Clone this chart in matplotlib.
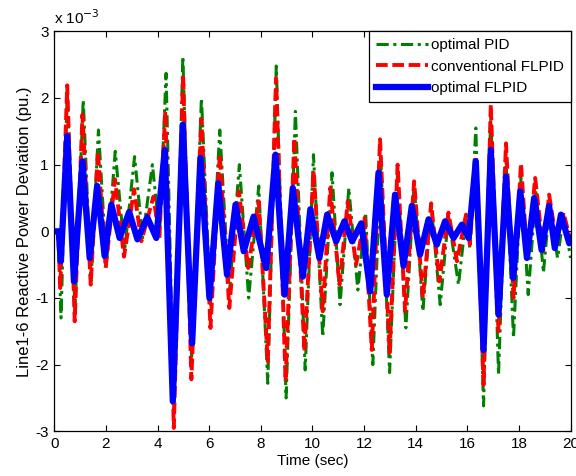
import matplotlib
matplotlib.use("Agg")
import matplotlib.pyplot as plt

plt.rcParams['font.family'] = ['Liberation Sans', 'DejaVu Sans']
plt.rcParams['axes.unicode_minus'] = False

# Values in units of 1e-3, time in seconds
t_pid = [0, 0.15, 0.26, 0.5, 0.8, 1.12, 1.42, 1.71, 2.02, 2.36, 2.72, 3.11, 3.42, 3.8, 4.08,
         4.33, 4.63, 4.98, 5.32, 5.7, 6.05, 6.41, 6.78, 7.17, 7.53, 7.92, 8.27, 8.6, 8.98,
         9.34, 9.72, 10.04, 10.4, 10.76, 11.07, 11.41, 11.76, 12.06, 12.34, 12.65, 12.99,
         13.3, 13.62, 13.94, 14.28, 14.6, 14.95, 15.27, 15.66, 15.95, 16.1, 16.33, 16.63,
         16.91, 17.21, 17.5, 17.79, 18.08, 18.36, 18.66, 18.95, 19.17, 19.5, 19.73, 20.0]
v_pid = [0, 0, -1.3, 2.1, -1.2, 1.97, -0.75, 1.52, -0.5, 1.2, -0.3, 1.12, -0.1, 1.0, -0.05,
         2.37, -2.7, 2.62, -1.9, 2.0, -1.1, 1.52, -0.95, 1.0, -1.0, 0.68, -2.28, 2.48, -2.5,
         1.8, -2.08, 1.15, -1.58, 0.88, -1.1, 0.65, -0.88, 0.28, -2.0, 1.05, -2.12,
         0.9, -1.45, 0.72, -1.2, 0.4, -1.1, 0.22, -0.8, 0.2, -0.25, 1.55, -2.62,
         1.8, -2.15, 1.05, -1.6, 0.8, -0.95, 0.62, -0.62, 0.32, -0.4, 0.25, -0.4]

t_conv = [0, 0.15, 0.23, 0.5, 0.79, 1.09, 1.41, 1.69, 1.99, 2.35, 2.7, 3.09, 3.37, 3.84, 4.07,
          4.3, 4.63, 4.99, 5.31, 5.7, 6.05, 6.41, 6.78, 7.15, 7.51, 7.92, 8.27, 8.59, 8.96,
          9.3, 9.69, 10.04, 10.4, 10.69, 11.05, 11.37, 11.69, 12.02, 12.3, 12.62, 12.99,
          13.3, 13.59, 13.94, 14.28, 14.6, 14.92, 15.27, 15.6, 15.95, 16.1, 16.33, 16.63,
          16.91, 17.21, 17.5, 17.79, 18.08, 18.33, 18.63, 18.94, 19.17, 19.45, 19.73, 20.0]
v_conv = [0, 0, -0.85, 2.19, -1.35, 1.75, -0.8, 1.2, -0.55, 0.78, -0.38, 0.63, -0.15, 0.52, -0.1,
          1.8, -2.95, 2.35, -2.22, 1.68, -1.45, 1.15, -1.15, 0.6, -0.55, 0.45, -1.95, 2.3, -2.25,
          1.4, -1.8, 0.9, -1.2, 0.65, -0.8, 0.45, -0.5, 0.2, -1.78, 1.38, -1.82,
          1.0, -1.2, 0.75, -1.0, 0.42, -0.75, 0.28, -0.45, 0.25, -0.2, 1.1, -2.3,
          1.9, -1.5, 1.32, -1.0, 1.02, -0.45, 0.8, -0.3, 0.55, -0.15, 0.28, -0.15]

t_opt = [0, 0.17, 0.25, 0.5, 0.76, 1.09, 1.37, 1.66, 1.95, 2.21, 2.53, 2.9, 3.22, 3.6, 3.95,
         4.28, 4.59, 4.975, 5.34, 5.66, 6.01, 6.35, 6.69, 7.02, 7.34, 7.72, 8.21, 8.57, 8.92,
         9.24, 9.63, 9.92, 10.27, 10.57, 10.92, 11.24, 11.54, 11.89, 12.24, 12.56, 12.88,
         13.2, 13.53, 13.85, 14.17, 14.5, 14.82, 15.14, 15.47, 15.79, 16.05, 16.33, 16.63,
         16.91, 17.21, 17.5, 17.78, 18.05, 18.31, 18.59, 18.88, 19.17, 19.39, 19.63, 19.95, 20.0]
v_opt = [0, 0, -0.45, 1.43, -0.75, 1.05, -0.4, 0.68, -0.37, 0.4, -0.1, 0.29, -0.12, 0.21, -0.1,
         1.22, -2.55, 1.6, -1.68, 1.1, -1.0, 0.72, -0.65, 0.4, -0.3, 0.22, -0.55, 1.15, -0.95,
         0.65, -0.68, 0.33, -0.4, 0.25, -0.15, 0.15, -0.15, 0.12, -0.9, 0.88, -0.95,
         0.55, -0.52, 0.38, -0.35, 0.18, -0.2, 0.15, -0.1, 0.1, -0.1, 1.05, -1.78,
         1.22, -1.25, 0.82, -0.7, 0.6, -0.4, 0.5, -0.28, 0.38, -0.25, 0.25, -0.18, -0.1]

labels = ['optimal PID', 'conventional FLPID', 'optimal FLPID']
x_ticks = [0, 2, 4, 6, 8, 10, 12, 14, 16, 18, 20]
y_ticks = [-3, -2, -1, 0, 1, 2, 3]

fig = plt.figure(figsize=(5.76, 4.76), dpi=100)
ax = fig.add_axes([0.0943, 0.0939, 0.8962, 0.8403])

ax.plot(t_pid, v_pid, color=(0, 0.5, 0), lw=2.2, dashes=(4, 1.5, 1, 1.5),
        dash_joinstyle='round', label=labels[0])
ax.plot(t_conv, v_conv, color=(1, 0, 0), lw=2.8, dashes=(3, 1.2),
        dash_joinstyle='round', label=labels[1])
ax.plot(t_opt, v_opt, color=(0, 0, 1), lw=4.5, solid_joinstyle='round', label=labels[2])

ax.set_xlim(0, 20)
ax.set_ylim(-3, 3)
ax.set_xticks(x_ticks)
ax.set_yticks(y_ticks)
ax.tick_params(direction='in', top=True, right=True, length=4, labelsize=11, pad=4)
for s in ax.spines.values():
    s.set_linewidth(0.9)

ax.set_xlabel('Time (sec)', fontsize=11, labelpad=2)
ax.set_ylabel('Line1-6 Reactive Power Deviation (pu.)', fontsize=12, labelpad=2)
ax.text(0.0, 1.01, 'x 10$^{-3}$', transform=ax.transAxes, fontsize=11, ha='left', va='bottom')

leg = ax.legend(loc='upper right', borderaxespad=0, fancybox=False, framealpha=1,
                edgecolor='black', fontsize=11, handlelength=3.4, handletextpad=0.2,
                labelspacing=0.5, borderpad=0.45)
leg.get_frame().set_linewidth(0.9)

fig.savefig('out.png', dpi=100)
